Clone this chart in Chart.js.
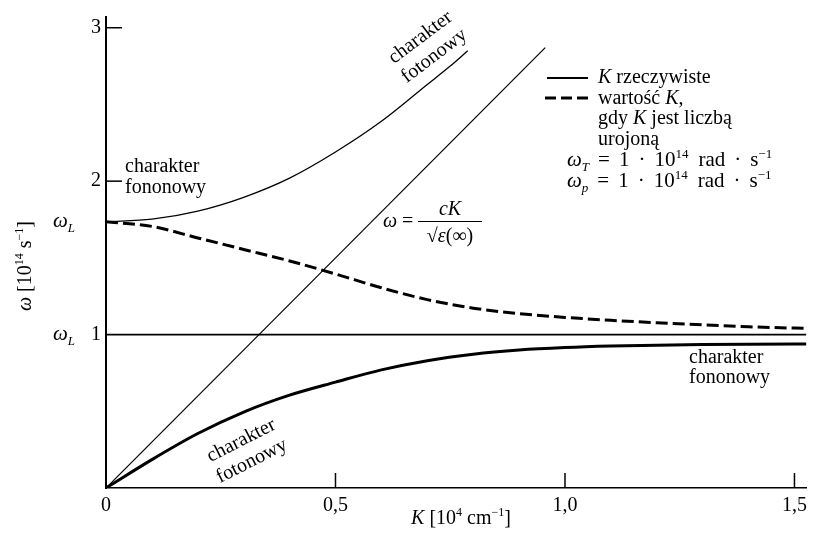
<!DOCTYPE html>
<html><head><meta charset="utf-8">
<script src="https://cdn.jsdelivr.net/npm/chart.js@4.4.1/dist/chart.umd.min.js"></script>
<style>html,body{margin:0;padding:0;background:#fff}canvas{display:block}</style>
</head><body>
<canvas id="c" width="813" height="543"></canvas>
<script>
// ---- data ----
const xTicks = [0, 0.5, 1.0, 1.5];
const xTickLabels = ['0', '0,5', '1,0', '1,5'];
const yTicks = [1, 2, 3];
const yTickLabels = ['1', '2', '3'];

const lowerK = [0, 0.1, 0.2, 0.3, 0.4, 0.5, 0.6, 0.7, 0.8, 0.9, 1.0, 1.1, 1.2, 1.3, 1.4, 1.526];
const lowerW = [0, 0.185, 0.355, 0.495, 0.605, 0.69, 0.77, 0.83, 0.872, 0.899, 0.915, 0.925, 0.931, 0.935, 0.937, 0.938];
const upperK = [0, 0.1, 0.2, 0.3, 0.4, 0.5, 0.6, 0.7, 0.75, 0.788];
const upperW = [1.735, 1.752, 1.805, 1.895, 2.02, 2.19, 2.39, 2.63, 2.75, 2.85];
const imagK = [0, 0.1, 0.2, 0.3, 0.4, 0.5, 0.6, 0.7, 0.8, 0.9, 1.0, 1.1, 1.2, 1.3, 1.4, 1.526];
const imagW = [1.735, 1.705, 1.63, 1.555, 1.48, 1.395, 1.305, 1.228, 1.172, 1.137, 1.112, 1.093, 1.077, 1.063, 1.051, 1.04];
const lightK = [0, 0.957];
const lightW = [0, 2.87];
const omegaTK = [0, 1.526];
const omegaTW = [1, 1];
const sideLabelValues = [1.735, 1];
const xMax = 1.526, yMax = 3.07;

const FF = '"Liberation Serif", "Times New Roman", serif';
function pts(xs, ys){ return xs.map((x,i)=>({x:x, y:ys[i]})); }

function fontFor(p, size){
  const s = (p.sup||p.sub) ? Math.round(size*0.62) : size;
  return (p.i?'italic ':'') + s + 'px ' + FF;
}
function richWidth(c, parts, size){
  let w=0;
  for(const p of parts){ if(p.gap){w+=p.gap;continue;} c.font=fontFor(p,size); w+=c.measureText(p.t).width; }
  return w;
}
function drawRich(c, x, y, parts, size, align){
  const w = richWidth(c, parts, size);
  let cx = align==='center' ? x - w/2 : (align==='right' ? x - w : x);
  c.textAlign='left'; c.textBaseline='alphabetic';
  for(const p of parts){
    if(p.gap){cx+=p.gap;continue;}
    c.font=fontFor(p,size);
    const dy = p.sup ? -size*0.4 : (p.sub ? size*0.25 : 0);
    c.fillText(p.t, cx, y+dy);
    cx += c.measureText(p.t).width;
  }
}
function rotLines(c, x, y, deg, lines, spacing, size){
  c.save(); c.translate(x,y); c.rotate(deg*Math.PI/180);
  c.font = size+'px '+FF; c.textAlign='center'; c.textBaseline='alphabetic';
  lines.forEach((l,i)=>c.fillText(l, 0, 6+i*spacing));
  c.restore();
}

const overlay = {
  id:'overlay',
  beforeDraw(chart){ const c=chart.ctx; c.save(); c.fillStyle='#fff'; c.fillRect(0,0,chart.width,chart.height); c.restore(); },
  afterDraw(chart){
    const c=chart.ctx, xs=chart.scales.x, ys=chart.scales.y, a=chart.chartArea;
    c.save();
    c.strokeStyle='#000'; c.fillStyle='#000';
    // inward tick marks
    c.lineWidth=1.5;
    yTicks.filter(v=>v!==1).forEach(v=>{const py=ys.getPixelForValue(v); c.beginPath(); c.moveTo(a.left,py); c.lineTo(a.left+16,py); c.stroke();});
    xTicks.filter(v=>v!==0).forEach(v=>{const px=xs.getPixelForValue(v); c.beginPath(); c.moveTo(px,a.bottom); c.lineTo(px,a.bottom-15); c.stroke();});
    // omega_L side labels
    sideLabelValues.forEach(v=>{
      const py=ys.getPixelForValue(v);
      drawRich(c, 53, py+5, [{t:'ω',i:true},{t:'L',i:true,sub:true}], 21, 'left');
    });
    // axis titles
    drawRich(c, 461, 524, [{t:'K',i:true},{t:' [10'},{t:'4',sup:true},{t:' cm'},{t:'−1',sup:true},{t:']'}], 20, 'center');
    c.save(); c.translate(31,266); c.rotate(-Math.PI/2);
    drawRich(c, 0, 0, [{t:'ω',i:true},{t:' [10'},{t:'14',sup:true},{t:' s'},{t:'−1',sup:true},{t:']'}], 20, 'center');
    c.restore();
    // annotations
    c.font='20px '+FF; c.textAlign='left'; c.textBaseline='alphabetic';
    c.fillText('charakter',125,172); c.fillText('fononowy',125,193);
    c.fillText('charakter',689,363); c.fillText('fononowy',689,383);
    rotLines(c, 420, 37, -37, ['charakter','fotonowy'], 23, 20);
    rotLines(c, 241, 440, -27, ['charakter','fotonowy'], 23, 20);
    // formula
    drawRich(c, 383, 227, [{t:'ω',i:true},{t:' = '}], 20, 'left');
    drawRich(c, 450, 215, [{t:'cK',i:true}], 20, 'center');
    c.lineWidth=1; c.beginPath(); c.moveTo(418,221.5); c.lineTo(482,221.5); c.stroke();
    drawRich(c, 450, 242, [{t:'√'},{t:'ε',i:true},{t:'(∞)'}], 20, 'center');
    // legend
    c.lineWidth=2; c.setLineDash([]);
    c.beginPath(); c.moveTo(547,78); c.lineTo(588,78); c.stroke();
    c.lineWidth=3; c.setLineDash([11,5]);
    c.beginPath(); c.moveTo(545,98); c.lineTo(588,98); c.stroke();
    c.setLineDash([]);
    drawRich(c, 598, 83, [{t:'K',i:true},{t:' rzeczywiste'}], 20, 'left');
    drawRich(c, 598, 104, [{t:'wartość '},{t:'K',i:true},{t:','}], 20, 'left');
    drawRich(c, 598, 124, [{t:'gdy '},{t:'K',i:true},{t:' jest liczbą'}], 20, 'left');
    drawRich(c, 598, 145, [{t:'urojoną'}], 20, 'left');
    const wl = (sub)=>[{t:'ω',i:true},{t:sub,i:true,sub:true},{gap:9},{t:'='},{gap:9},{t:'1'},{gap:9},{t:'·'},{gap:9},{t:'10'},{t:'14',sup:true},{gap:10},{t:'rad'},{gap:9},{t:'·'},{gap:9},{t:'s'},{t:'−1',sup:true}];
    drawRich(c, 567, 166, wl('T'), 21, 'left');
    drawRich(c, 567, 187, wl('p'), 21, 'left');
    c.restore();
  }
};

new Chart(document.getElementById('c'), {
  type:'scatter',
  data:{ datasets:[
    {data:pts(omegaTK, omegaTW), showLine:true, borderColor:'#000', borderWidth:1.8, pointRadius:0},
    {data:pts(lightK, lightW), showLine:true, borderColor:'#000', borderWidth:1.2, pointRadius:0},
    {data:pts(upperK, upperW), showLine:true, borderColor:'#000', borderWidth:1.3, pointRadius:0, cubicInterpolationMode:'monotone'},
    {data:pts(lowerK, lowerW), showLine:true, borderColor:'#000', borderWidth:3, pointRadius:0, cubicInterpolationMode:'monotone'},
    {data:pts(imagK, imagW), showLine:true, borderColor:'#000', borderWidth:3, borderDash:[12,5], pointRadius:0, cubicInterpolationMode:'monotone'}
  ]},
  options:{
    responsive:false, animation:false, devicePixelRatio:1,
    layout:{padding:{top:12,right:2,left:0,bottom:0}},
    plugins:{legend:{display:false}, tooltip:{enabled:false}},
    scales:{
      x:{type:'linear', min:0, max:xMax,
        grid:{display:true, drawOnChartArea:false, drawTicks:false},
        border:{display:true, color:'#000', width:1.5},
        afterBuildTicks:s=>{ s.ticks = xTicks.map(v=>({value:v})); },
        afterFit:s=>{ s.height = 55; },
        ticks:{padding:6, color:'#000', font:{family:FF, size:20}, maxRotation:0, autoSkip:false,
          callback:(v)=>{ const i=xTicks.indexOf(v); return i>=0 ? xTickLabels[i] : ''; }}
      },
      y:{type:'linear', min:0, max:yMax,
        grid:{display:true, drawOnChartArea:false, drawTicks:false},
        border:{display:true, color:'#000', width:2},
        afterBuildTicks:s=>{ s.ticks = yTicks.map(v=>({value:v})); },
        afterFit:s=>{ s.width = 106; },
        ticks:{padding:5, color:'#000', font:{family:FF, size:20}, autoSkip:false,
          callback:(v)=>{ const i=yTicks.indexOf(v); return i>=0 ? yTickLabels[i] : ''; }}
      }
    }
  },
  plugins:[overlay]
});
</script>
</body></html>
